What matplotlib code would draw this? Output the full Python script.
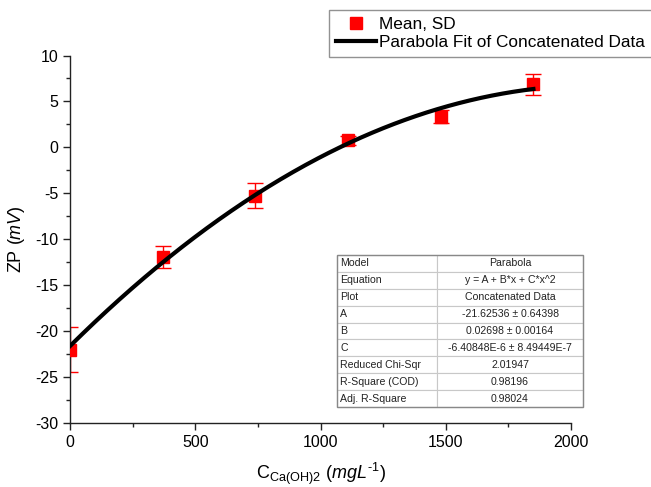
import numpy as np
import matplotlib.pyplot as plt
from matplotlib.patches import Rectangle

plt.rcParams['font.family'] = ['Liberation Sans', 'DejaVu Sans']
plt.rcParams['mathtext.fontset'] = 'custom'
plt.rcParams['mathtext.rm'] = 'Liberation Sans'
plt.rcParams['mathtext.it'] = 'Liberation Sans:italic'
plt.rcParams['axes.unicode_minus'] = False

# measured zeta potential vs Ca(OH)2 concentration
conc = [0, 370, 740, 1110, 1480, 1850]
zp_mean = [-22.0, -11.9, -5.25, 0.75, 3.35, 6.85]
zp_sd = [2.4, 1.2, 1.4, 0.5, 0.75, 1.1]

# parabola fit parameters (from the fit report)
A = -21.62536
B = 0.02698
C = -6.40848e-6

table_rows = [
    ["Model", "Parabola"],
    ["Equation", "y = A + B*x + C*x^2"],
    ["Plot", "Concatenated Data"],
    ["A", "-21.62536 \u00b1 0.64398"],
    ["B", "0.02698 \u00b1 0.00164"],
    ["C", "-6.40848E-6 \u00b1 8.49449E-7"],
    ["Reduced Chi-Sqr", "2.01947"],
    ["R-Square (COD)", "0.98196"],
    ["Adj. R-Square", "0.98024"],
]

fig = plt.figure(figsize=(6.51, 4.87), dpi=100)
ax = fig.add_axes([70 / 651, 1 - 423 / 487, 501 / 651, 367.5 / 487])

x_fit = np.linspace(0, max(conc), 300)
y_fit = A + B * x_fit + C * x_fit ** 2

ax.errorbar(conc, zp_mean, yerr=zp_sd, fmt='none', ecolor='red',
            elinewidth=1.0, capsize=5.5, capthick=1.0, zorder=2)
ax.plot(conc, zp_mean, 's', color='red', markersize=8, ls='none',
        label='Mean, SD', zorder=3)
ax.plot(x_fit, y_fit, color='black', lw=3,
        label='Parabola Fit of Concatenated Data', zorder=4)

ax.set_xlim(0, 2000)
ax.set_ylim(-30, 10)
ax.set_xticks([0, 500, 1000, 1500, 2000])
ax.set_xticks(np.arange(250, 2000, 500), minor=True)
ax.set_yticks(np.arange(-30, 11, 5))
ax.set_yticks(np.arange(-27.5, 10, 5), minor=True)

for s in ['top', 'right']:
    ax.spines[s].set_visible(False)
for s in ['left', 'bottom']:
    ax.spines[s].set_linewidth(1.0)
    ax.spines[s].set_color('#222222')

ax.tick_params(which='major', direction='out', length=5, width=1,
               labelsize=11.5, colors='#222222', labelcolor='black')
ax.tick_params(which='minor', direction='out', length=3, width=1,
               colors='#222222')

ax.set_ylabel(r'ZP $\mathit{(mV)}$', fontsize=13, labelpad=6)
ax.set_xlabel(r'$\mathrm{C_{Ca(OH)2}}$ $\mathit{(mgL^{\text{-}1})}$',
              fontsize=13, labelpad=8)

leg = fig.legend(loc='upper left', bbox_to_anchor=(329 / 651, 1 - 10 / 487),
                 fontsize=12.4, frameon=True, fancybox=False, borderaxespad=0,
                 handlelength=2.3, handletextpad=0.2, borderpad=0.4,
                 labelspacing=0.2)
leg.get_frame().set_edgecolor('#777777')
leg.get_frame().set_linewidth(1.0)

# fit report table
tab = ax.table(cellText=table_rows, colWidths=[0.407, 0.593],
               cellLoc='center',
               bbox=[(337 - 70) / 501, (423 - 407) / 367.5,
                     246 / 501, 152 / 367.5])
tab.auto_set_font_size(False)
tab.set_fontsize(7.6)
for (r, c), cell in tab.get_celld().items():
    cell.set_edgecolor('#c8c8c8')
    cell.set_linewidth(0.8)
    cell.set_facecolor('white')
    cell.get_text().set_color('#222222')
    if c == 0:
        cell.PAD = 0.03
        cell.get_text().set_horizontalalignment('left')
tab.set_zorder(5)
ax.add_patch(Rectangle(((337 - 70) / 501, (423 - 407) / 367.5),
                       246 / 501, 152 / 367.5, transform=ax.transAxes,
                       fill=False, edgecolor='#888888', lw=1.0,
                       zorder=6, clip_on=False))

fig.savefig('out.png', dpi=100)
